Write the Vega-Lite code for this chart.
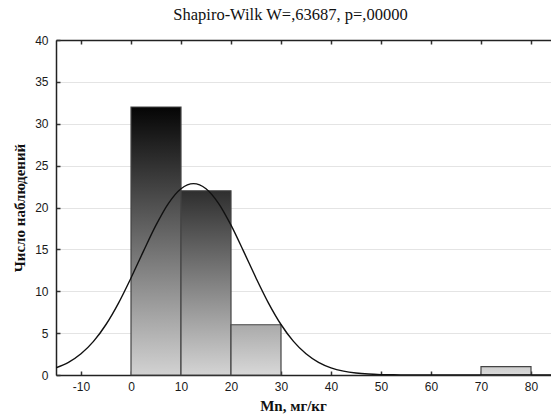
{
  "$schema": "https://vega.github.io/schema/vega-lite/v6.json",
  "width": 495,
  "height": 335,
  "autosize": "none",
  "padding": {"left": 56, "top": 40, "right": 0, "bottom": 43},
  "background": "white",
  "title": {
    "text": "Shapiro-Wilk W=,63687, p=,00000",
    "font": "Liberation Serif",
    "fontSize": 16.5,
    "fontWeight": "normal",
    "color": "#111",
    "offset": 11,
    "dx": -13
  },
  "config": {
    "view": {"stroke": null},
    "axis": {
      "labelFont": "Liberation Sans",
      "labelFontSize": 12,
      "labelColor": "#1a1a1a",
      "titleFont": "Liberation Serif",
      "titleFontSize": 15,
      "titleFontWeight": "bold",
      "titleColor": "#111",
      "domainColor": "#222",
      "domainWidth": 1.5,
      "tickColor": "#333",
      "tickWidth": 1.5
    }
  },
  "datasets": {
    "bins": [
      {"bin_start": 0, "bin_end": 10, "count": 32},
      {"bin_start": 10, "bin_end": 20, "count": 22},
      {"bin_start": 20, "bin_end": 30, "count": 6},
      {"bin_start": 70, "bin_end": 80, "count": 1}
    ],
    "curve": [
      {"x": -15, "y": 0.853}, {"x": -12.5, "y": 1.51}, {"x": -10, "y": 2.53},
      {"x": -7.5, "y": 4.01}, {"x": -5, "y": 6.03}, {"x": -2.5, "y": 8.59},
      {"x": 0, "y": 11.59}, {"x": 2.5, "y": 14.79}, {"x": 5, "y": 17.89},
      {"x": 7.5, "y": 20.5}, {"x": 10, "y": 22.24}, {"x": 12.5, "y": 22.85},
      {"x": 15, "y": 22.24}, {"x": 17.5, "y": 20.5}, {"x": 20, "y": 17.89},
      {"x": 22.5, "y": 14.79}, {"x": 25, "y": 11.59}, {"x": 27.5, "y": 8.59},
      {"x": 30, "y": 6.03}, {"x": 32.5, "y": 4.01}, {"x": 35, "y": 2.53},
      {"x": 37.5, "y": 1.51}, {"x": 40, "y": 0.853}, {"x": 42.5, "y": 0.457},
      {"x": 45, "y": 0.231}, {"x": 47.5, "y": 0.111}, {"x": 50, "y": 0.05},
      {"x": 52.5, "y": 0.022}, {"x": 55, "y": 0.009}, {"x": 60, "y": 0.001},
      {"x": 65, "y": 0}, {"x": 70, "y": 0}, {"x": 80, "y": 0}, {"x": 84, "y": 0}
    ]
  },
  "layer": [
    {
      "data": {"name": "bins"},
      "mark": {"type": "bar", "stroke": "#444", "strokeWidth": 1.2},
      "encoding": {
        "x": {
          "field": "bin_start", "type": "quantitative",
          "scale": {"domain": [-15, 84], "nice": false, "zero": false},
          "axis": {
            "values": [-10, 0, 10, 20, 30, 40, 50, 60, 70, 80],
            "labelExpr": "'' + datum.value",
            "title": "Mn, мг/кг",
            "titleX": 237,
            "grid": false,
            "tickSize": -4,
            "labelPadding": 10,
            "titlePadding": 6
          }
        },
        "x2": {"field": "bin_end"},
        "y": {
          "field": "count", "type": "quantitative",
          "scale": {"domain": [0, 40], "nice": false},
          "axis": {
            "values": [0, 5, 10, 15, 20, 25, 30, 35, 40],
            "title": "Число наблюдений",
            "grid": true,
            "gridColor": "#e4e4e4",
            "gridWidth": 1,
            "tickSize": -4,
            "labelPadding": 12,
            "titlePadding": 7
          }
        },
        "y2": {"datum": 0},
        "fill": {
          "condition": [
            {"test": "datum.count == 32", "value": {"gradient": "linear", "x1": 0, "y1": 0, "x2": 0, "y2": 1, "stops": [{"offset": 0, "color": "#050505"}, {"offset": 1, "color": "#d2d2d2"}]}},
            {"test": "datum.count == 22", "value": {"gradient": "linear", "x1": 0, "y1": 0, "x2": 0, "y2": 1, "stops": [{"offset": 0, "color": "#2e2e2e"}, {"offset": 1, "color": "#d4d4d4"}]}},
            {"test": "datum.count == 6", "value": {"gradient": "linear", "x1": 0, "y1": 0, "x2": 0, "y2": 1, "stops": [{"offset": 0, "color": "#aaaaaa"}, {"offset": 1, "color": "#d8d8d8"}]}}
          ],
          "value": {"gradient": "linear", "x1": 0, "y1": 0, "x2": 0, "y2": 1, "stops": [{"offset": 0, "color": "#cecece"}, {"offset": 1, "color": "#dadada"}]}
        }
      }
    },
    {
      "data": {"name": "curve"},
      "mark": {"type": "line", "color": "#111", "strokeWidth": 1.4, "interpolate": "monotone", "clip": true},
      "encoding": {
        "x": {
          "field": "x", "type": "quantitative",
          "axis": {
            "orient": "top",
            "values": [-10, 0, 10, 20, 30, 40, 50, 60, 70, 80],
            "labels": false,
            "title": null,
            "grid": false,
            "tickSize": -4
          }
        },
        "y": {"field": "y", "type": "quantitative"}
      }
    }
  ],
  "resolve": {"axis": {"x": "independent"}}
}
